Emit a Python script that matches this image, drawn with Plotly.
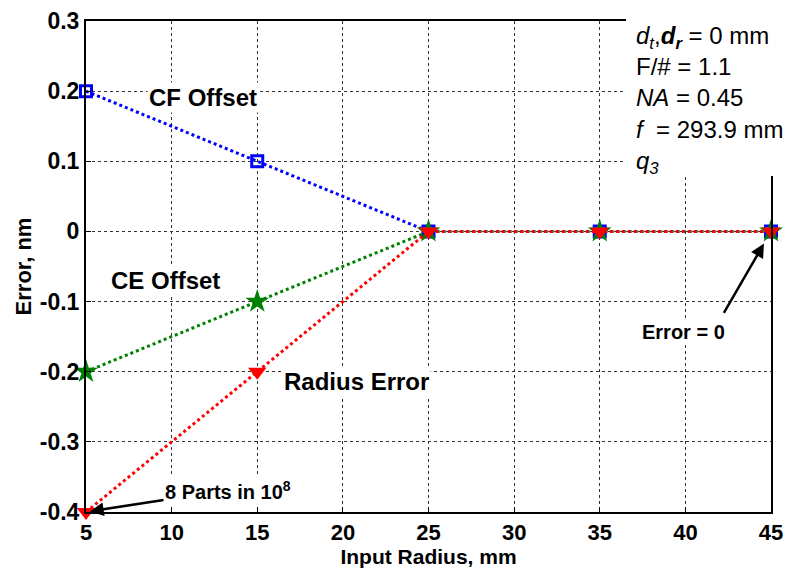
import plotly.graph_objects as go

x_radius = [5, 15, 25, 35, 45]
cf_offset = [0.2, 0.1, 0.0, 0.0, 0.0]
ce_offset = [-0.2, -0.1, 0.0, 0.0, 0.0]
radius_error = [-0.4, -0.2, 0.0, 0.0, 0.0]
x_ticks = [5, 10, 15, 20, 25, 30, 35, 40, 45]
y_ticks = [-0.4, -0.3, -0.2, -0.1, 0.0, 0.1, 0.2, 0.3]
y_tick_labels = ["-0.4", "-0.3", "-0.2", "-0.1", "0", "0.1", "0.2", "0.3"]

FONT = "Liberation Sans, Arial, sans-serif"

W, H = 794, 569
L, R, T, B = 86, 23, 21, 57
pw, ph = W - L - R, H - T - B


def px(xp):
    return (xp - L) / pw


def py(yp):
    return 1 - (yp - T) / ph


fig = go.Figure()
fig.add_trace(go.Scatter(
    x=x_radius, y=cf_offset, mode="lines+markers", name="CF Offset",
    line=dict(color="#0000ff", width=3, dash="dot"),
    marker=dict(symbol="square-open", size=11, color="#0000ff", line=dict(width=3)),
    cliponaxis=False))
fig.add_trace(go.Scatter(
    x=x_radius, y=ce_offset, mode="lines+markers", name="CE Offset",
    line=dict(color="#008000", width=3, dash="dot"),
    marker=dict(symbol="star", size=18, color="#008000"),
    cliponaxis=False))
fig.add_trace(go.Scatter(
    x=x_radius, y=radius_error, mode="lines+markers", name="Radius Error",
    line=dict(color="#ff0000", width=3, dash="dot"),
    marker=dict(symbol="triangle-down", size=16, color="#ff0000"),
    cliponaxis=False))

bold = dict(family=FONT, size=24, color="black")
for txt, xp, yp in [("CF Offset", 203, 97), ("CE Offset", 165, 280), ("Radius Error", 356, 381)]:
    fig.add_annotation(x=px(xp), y=py(yp), xref="paper", yref="paper", text=f"<b>{txt}</b>",
                       xanchor="center", yanchor="middle",
                       showarrow=False, font=bold, bgcolor="white")

# "8 Parts in 10^8" with arrow to the first radius-error point
fig.add_annotation(x=5, y=-0.4, xref="x", yref="y", ax=142, ay=-22,
                   text="<b>8 Parts in 10<sup>8</sup></b>", showarrow=True,
                   arrowhead=2, arrowsize=1.1, arrowwidth=2.5, arrowcolor="black",
                   standoff=4, font=dict(family=FONT, size=20, color="black"),
                   bgcolor="white")
# "Error = 0" text and its arrow
fig.add_annotation(x=px(683), y=py(332), xref="paper", yref="paper",
                   xanchor="center", yanchor="middle",
                   text="<b>Error = 0</b>", showarrow=False,
                   font=dict(family=FONT, size=20, color="black"), bgcolor="white")
fig.add_annotation(x=45, y=0, xref="x", yref="y", ax=-48, ay=83, text="",
                   showarrow=True, arrowhead=2, arrowsize=1.1, arrowwidth=2.5,
                   arrowcolor="black", standoff=14)

fig.add_shape(type="rect", xref="paper", yref="paper", x0=px(626), x1=px(800),
              y0=py(176), y1=py(-5), fillcolor="white", line=dict(width=0), layer="above")
info = ("<i>d<sub>t</sub></i>,<b><i>d<sub>r</sub></i></b> = 0 mm<br>F/# = 1.1<br>"
        "<i>NA</i> = 0.45<br><i>f</i>  = 293.9 mm<br><i>q<sub>3</sub></i>")
fig.add_annotation(x=px(634), y=py(20), xref="paper", yref="paper", text=info,
                   showarrow=False, xanchor="left", yanchor="top", align="left",
                   font=dict(family=FONT, size=24, color="black"))

axis_common = dict(showline=True, linecolor="black", linewidth=2, mirror=True,
                   showgrid=True, gridcolor="#333", griddash="dot", gridwidth=1,
                   ticks="inside", ticklen=5, tickcolor="black", zeroline=False,
                   automargin=False)

fig.update_xaxes(range=[5, 45], tickvals=x_ticks, ticktext=[f"<b>{v}</b>" for v in x_ticks],
                 tickfont=dict(family=FONT, size=22, color="black"),
                 title=dict(text="<b>Input Radius, mm</b>", font=dict(family=FONT, size=21, color="black"),
                            standoff=0), **axis_common)
fig.update_yaxes(range=[-0.4, 0.3], tickvals=y_ticks, ticktext=[f"<b>{v}</b>" for v in y_tick_labels],
                 tickfont=dict(family=FONT, size=23, color="black"),
                 title=dict(text="<b>Error, nm</b>", font=dict(family=FONT, size=22, color="black"),
                            standoff=2), **axis_common)

fig.update_layout(width=W, height=H, margin=dict(l=L, r=R, t=T, b=B),
                  plot_bgcolor="white", paper_bgcolor="white", showlegend=False)

fig.write_html("out.html")
